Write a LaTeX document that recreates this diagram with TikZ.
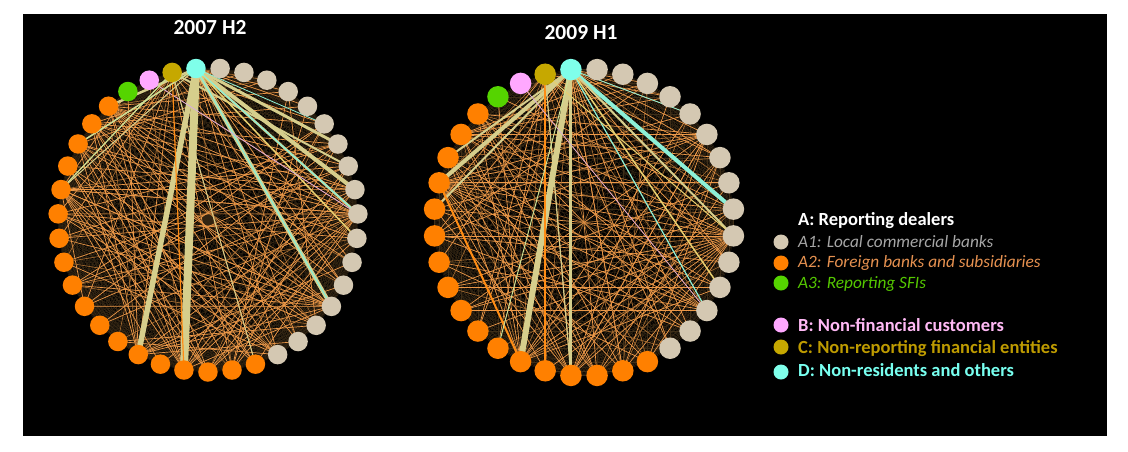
\documentclass[tikz,border=0pt]{standalone}
\usepackage{fontspec}
\setmainfont{Carlito}
\pgfdeclarelayer{bg}\pgfdeclarelayer{mesh}\pgfdeclarelayer{edges}\pgfdeclarelayer{hi}
\pgfsetlayers{bg,mesh,edges,hi,main}
\definecolor{colLocal}{RGB}{212,200,178}
\definecolor{colForeign}{RGB}{255,128,0}
\definecolor{colSFI}{RGB}{85,212,0}
\definecolor{colNF}{RGB}{255,168,255}
\definecolor{colNR}{RGB}{198,168,0}
\definecolor{colNRes}{RGB}{127,255,234}
\definecolor{khaki}{RGB}{214,206,140}
\definecolor{yellowE}{RGB}{232,208,112}
\definecolor{cyanE}{RGB}{140,240,215}
\definecolor{lilac}{RGB}{215,170,230}
\definecolor{brightor}{RGB}{255,140,20}
\definecolor{lgreen}{RGB}{205,225,150}
\definecolor{oeA}{RGB}{236,152,72}
\definecolor{oeB}{RGB}{170,110,50}
\definecolor{meshc}{RGB}{62,46,24}
\definecolor{haze}{RGB}{50,36,18}
\definecolor{txA1}{RGB}{166,166,166}
\definecolor{txA2}{RGB}{230,145,80}
\definecolor{txA3}{RGB}{85,200,0}
\definecolor{txB}{RGB}{255,185,245}
\definecolor{txC}{RGB}{190,155,0}
\definecolor{txD}{RGB}{120,255,240}
\tikzset{
  nodeL/.style={circle,inner sep=0pt,minimum size=19.5pt},
  nodeR/.style={circle,inner sep=0pt,minimum size=21.5pt},
  meshline/.style={color=meshc,line width=0.25pt},
  oe/.style={color=oeA,line width=0.7pt},
  oedark/.style={color=oeB,line width=0.6pt},
  legdot/.style={circle,inner sep=0pt,minimum size=15pt},
  legtxt/.style={inner sep=0pt,anchor=base west},
  legb/.style={legtxt,font=\fontsize{18.5}{21}\selectfont\bfseries},
  legi/.style={legtxt,font=\fontsize{17.3}{21}\selectfont\itshape},
  ttl/.style={inner sep=0pt,anchor=base,text=white,font=\fontsize{21.5}{25}\selectfont\bfseries}
}
\newcommand\pickcol[2]{%
  \ifcase#1 \def\col{colNRes}\or \def\col{colNR}\or \def\col{colNF}\or \def\col{colSFI}\else
  \ifnum#1<#2 \def\col{colForeign}\else \def\col{colLocal}\fi\fi}
\begin{document}
\begin{tikzpicture}[x=1pt,y=-1pt]
\useasboundingbox (0,0) rectangle (1128,451);
\begin{pgfonlayer}{bg}
\fill[black] (23,14) rectangle (1107,436);
\fill[haze] (208,220) circle[radius=7];
\end{pgfonlayer}
% ---------- nodes, left graph (2007 H2)
\foreach \k in {0,...,38} {
  \pgfmathsetmacro\ang{94.6+9.2308*\k}
  \pickcol{\k}{22}
  \node[nodeL,fill=\col] (L\k) at ({208+150*cos(\ang)},{220-152*sin(\ang)}) {};
}
% ---------- nodes, right graph (2009 H1)
\foreach \k in {0,...,35} {
  \pgfmathsetmacro\ang{95+10*\k}
  \pickcol{\k}{21}
  \node[nodeR,fill=\col] (R\k) at ({584+150*cos(\ang)},{222.5-153.5*sin(\ang)}) {};
}
% ---------- faint mesh
\begin{pgfonlayer}{mesh}
\foreach \i in {0,...,37} {
  \pgfmathtruncatemacro\s{\i+1}
  \foreach \j in {\s,...,38} {
    \draw[meshline] (L\i.center) -- (L\j.center);
  }
}
\foreach \i in {0,...,34} {
  \pgfmathtruncatemacro\s{\i+1}
  \foreach \j in {\s,...,35} {
    \draw[meshline] (R\i.center) -- (R\j.center);
  }
}
\end{pgfonlayer}
% ---------- orange edges
\begin{pgfonlayer}{edges}
\foreach \h/\ts in {
 8/{18,19,20,17,21,22,25,29,30,31,32,0,1,3,13},
 29/{4,5,6,8,9,10,11,12,14,15,17,18,19,20,21,2,1},
 30/{5,7,10,13,16,19,4},
 25/{4,5,6,8,9,10,11,12,13,16,18,0},
 16/{4,5,6,1,0,3,26,27,28,23},
 18/{4,5,6,7,0,2,30,31,33},
 19/{4,6,7,32,33,28},
 20/{5,0,1,34,35,31},
 4/{22,23,24,26,27,28,31,33,35,36},
 5/{24,27,32,34,37,21},
 6/{21,22,26,28,36},
 0/{22,23,24,26,27,28,34,35,36},
 1/{9,10,11,13,15,21,23,26,33},
 12/{24,28,31,33},
 22/{7,9,11,2,15},
 24/{9,7,15,35},
 32/{9,10,14,16},
 9/{28},
 13/{33},
 11/{31}} {
  \foreach \t in \ts {
    \pgfmathtruncatemacro\m{mod(\h+\t,4)}
    \ifnum\m=0 \draw[oedark] (L\h.center) -- (L\t.center);
    \else \draw[oe] (L\h.center) -- (L\t.center); \fi
  }
}
\foreach \h/\ts in {
 7/{15,16,17,18,19,21,22,23,24,25,26,27,28,29,30,31,33,0,1},
 26/{4,5,6,8,9,10,11,12,13,14,15,16,17,18,19,20},
 27/{5,9,12,15,17,0,1,3},
 23/{4,5,6,8,10,12,1,2},
 30/{5,6,8,9,12,15,17,18,19},
 15/{4,5,6,0,1,3,24,25,29,31,33},
 17/{5,6,8,29,30,31,32},
 18/{4,5,6,0,28},
 19/{4,0,1,29,33},
 0/{9,10,13,16,19,20,21,22,24,25,28,29,30,31,32,33},
 1/{8,11,13,14,17,21,25,29,32},
 5/{24,29,32,33,34},
 4/{20,22,28,30},
 20/{6,29,10},
 9/{22,25,33},
 11/{21,24,28}} {
  \foreach \t in \ts {
    \pgfmathtruncatemacro\m{mod(\h+\t,4)}
    \ifnum\m=0 \draw[oedark] (R\h.center) -- (R\t.center);
    \else \draw[oe] (R\h.center) -- (R\t.center); \fi
  }
}
\end{pgfonlayer}
% ---------- highlighted edges
\begin{pgfonlayer}{hi}
\foreach \a/\b/\w/\c in {
 0/18/8/khaki, 0/16/5.5/khaki, 0/30/4/khaki, 0/29/2.5/khaki, 0/25/4/khaki,
 0/32/3/khaki, 1/31/2/khaki, 0/28/1.5/yellowE, 0/4/2.5/khaki, 0/6/1.5/khaki,
 0/29/1.2/cyanE, 0/25/1.2/cyanE, 0/33/0.8/cyanE, 2/29/0.7/lilac,
 1/18/1.2/brightor, 8/1/1.2/lgreen, 6/0/1/lgreen, 8/0/1/khaki, 1/21/1/khaki} {
  \draw[line width=\w pt,color=\c] (L\a.center) -- (L\b.center);
}
\foreach \a/\b/\w/\c in {
 0/15/6/khaki, 0/17/3/khaki, 0/7/4/khaki, 0/6/2/khaki, 0/8/2/khaki,
 1/16/1.5/brightor, 7/15/2/brightor, 0/27/4/cyanE, 0/23/1.2/cyanE,
 0/31/0.8/cyanE, 0/24/1.5/yellowE, 0/26/2/khaki, 1/26/1/yellowE,
 2/23/0.6/lilac, 1/17/1.2/khaki, 0/14/1/lgreen} {
  \draw[line width=\w pt,color=\c] (R\a.center) -- (R\b.center);
}
\end{pgfonlayer}
% ---------- titles
\node[ttl] (t1) at (210,34) {2007 H2};
\node[ttl] (t2) at (581,39) {2009 H1};
% ---------- legend
\node[legb,text=white] (tA) at (798,225) {A: Reporting dealers};
\node[legdot,fill=colLocal] (dA1) at (781,242) {};
\node[legi,text=txA1] (tA1) at (798,247) {A1: Local commercial banks};
\node[legdot,fill=colForeign] (dA2) at (781,263) {};
\node[legi,text=txA2] (tA2) at (798,267) {A2: Foreign banks and subsidiaries};
\node[legdot,fill=colSFI] (dA3) at (781,283) {};
\node[legi,text=txA3] (tA3) at (798,288) {A3: Reporting SFIs};
\node[legdot,fill=colNF] (dB) at (781,325) {};
\node[legb,text=txB] (tB) at (798,331) {B: Non-financial customers};
\node[legdot,fill=colNR] (dC) at (781,347) {};
\node[legb,text=txC] (tC) at (798,353) {C: Non-reporting financial entities};
\node[legdot,fill=colNRes] (dD) at (781,372) {};
\node[legb,text=txD] (tD) at (798,376) {D: Non-residents and others};
\end{tikzpicture}
\end{document}
